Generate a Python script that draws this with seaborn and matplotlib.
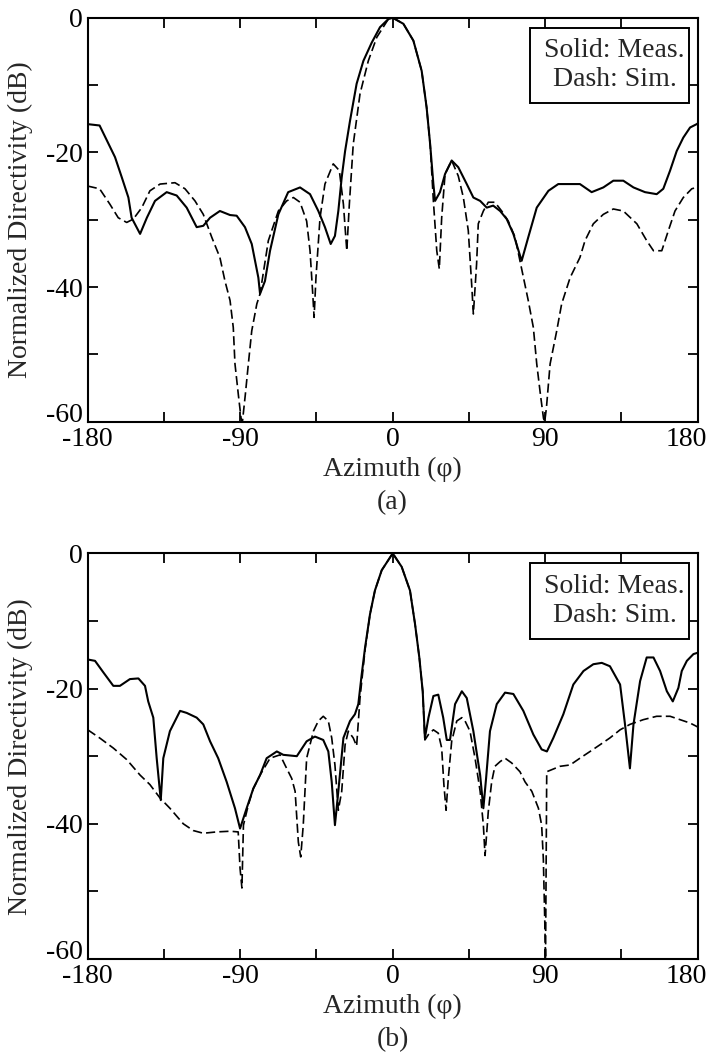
import numpy as np
import pandas as pd
import matplotlib
matplotlib.use("Agg")
import matplotlib.pyplot as plt
from matplotlib.ticker import FixedLocator
from matplotlib.patches import Rectangle
from matplotlib.transforms import ScaledTranslation
import seaborn as sns

# (a) measured
a_meas_x = [-180, -173.0, -163.9, -159.9, -156.0, -154.1, -149.1, -145.1, -140.3, -133.4, -127.5, -121.6,
            -115.7, -111.8, -107.8, -102.0, -96.0, -92.1, -87.2, -83.2, -79.3, -78.3, -75.4, -72.4, -67.5,
            -61.7, -54.7, -48.8, -43.9, -40.0, -36.6, -34.1, -32.1, -30.1, -28.1, -25.2, -21.3, -17.3,
            -12.4, -7.5, -2.6, 0, 6.3, 12.2, 17.1, 20.0, 22.1, 24.0, 25.0, 27.9, 30.9, 34.8, 38.7, 43.7,
            47.6, 51.6, 55.5, 59.3, 63.4, 67.3, 71.2, 76.1, 80.0, 85.0, 91.9, 97.7, 110.5, 117.4, 124.3,
            130.2, 136.1, 142.1, 148.9, 155.8, 159.7, 163.7, 167.6, 171.5, 175.5, 179.4, 180]
a_meas_y = [-15.8, -16.0, -20.7, -23.7, -26.7, -29.7, -32.1, -29.7, -27.2, -25.9, -26.4, -28.2,
            -31.1, -30.9, -29.7, -28.7, -29.3, -29.4, -31.1, -33.6, -38.6, -41.0, -39.1, -34.6, -29.2,
            -25.9, -25.2, -26.2, -28.7, -31.1, -33.6, -32.4, -28.7, -23.7, -19.8, -15.3, -9.8, -6.4,
            -3.7, -1.4, -0.2, 0, -0.9, -3.4, -7.9, -13.3, -18.8, -24.7, -27.2, -25.9, -23.2, -21.2, -22.2, -24.7,
            -26.7, -27.2, -28.2, -27.9, -28.7, -29.9, -32.1, -36.1, -32.6, -28.2, -25.7, -24.7, -24.7, -25.9, -25.2,
            -24.2, -24.2, -25.2, -25.9, -26.2, -25.4, -22.7, -19.8, -17.8, -16.3, -15.8, -15.7]

# (a) simulated
a_sim_x = [-180, -173.0, -166.9, -162.0, -157.0, -153.1, -148.1, -143.3, -137.3, -128.5, -122.6, -116.7,
           -111.8, -106.8, -102.0, -99.0, -96.0, -94.1, -93.1, -91.1, -89.5, -88.7, -87.0, -85.2, -83.2,
           -80.2, -78.3, -73.4, -67.5, -62.6, -58.6, -54.7, -50.8, -48.8, -47.2, -46.4, -45.3, -42.9,
           -40.0, -35.1, -31.5, -29.1, -27.1, -25.6, -23.3, -19.3, -14.4, -9.4, -2.6, 0, 6.3, 12.2,
           17.1, 20.0, 22.1, 24.0, 26.0, 27.5, 28.9, 30.9, 34.8, 38.7, 41.7, 44.6, 46.6, 47.6, 49.5, 50.5,
           53.5, 56.4, 60.3, 64.3, 68.2, 72.2, 76.1, 80.0, 83.0, 85.0, 87.2, 89.0, 89.7, 90.7, 92.9, 96.8,
           99.7, 104.7, 110.5, 113.5, 118.4, 124.3, 130.2, 136.1, 144.1, 149.9, 153.9, 158.8, 162.7, 166.6,
           171.5, 176.5, 179.4, 180]
a_sim_y = [-25.0, -25.4, -27.7, -29.7, -30.4, -29.9, -28.2, -25.7, -24.7, -24.5, -25.4, -27.2,
           -29.2, -32.6, -35.6, -39.1, -42.0, -46.0, -51.4, -56, -59.5, -60, -56, -51.4, -46.5,
           -42.5, -41.0, -33.1, -28.7, -27.2, -26.7, -27.4, -30.2, -34.6, -41.0, -44.5, -38.6, -29.7,
           -24.7, -21.7, -22.7, -27.7, -34.6, -27.7, -18.8, -11.3, -6.4, -2.9, -0.2, 0, -0.9, -3.4,
           -7.9, -13.3, -18.8, -27.2, -34.6, -37.3, -29.7, -23.2, -21.2, -23.5, -26.7, -31.6, -39.6, -44.0, -36.6, -30.6,
           -28.7, -27.4, -27.4, -28.7, -30.2, -32.6, -37.3, -42.0, -46.0, -51.4, -56, -59.5, -60, -58, -51.4, -46.5,
           -42.5, -38.6, -35.6, -33.1, -30.6, -29.2, -28.4, -28.7, -30.6, -33.1, -34.6, -34.6, -31.6, -28.7,
           -26.7, -25.4, -25.2, -25.0]

# (b) measured
b_meas_x = [-180, -175.7, -170.8, -164.9, -161.0, -155.1, -150.1, -146.2, -144.3, -141.3, -139.3, -136.9,
            -135.4, -131.5, -125.5, -121.6, -115.7, -111.8, -107.8, -103.0, -98.0, -93.1, -90.1, -86.2,
            -82.3, -78.3, -74.4, -68.4, -64.6, -56.6, -50.8, -45.9, -41.0, -38.0, -36.0, -34.1, -32.1, -29.1,
            -25.2, -22.3, -20.3, -18.3, -16.3, -13.4, -10.5, -6.5, -2.6, 0, 5.3, 10.2, 13.2, 15.7, 17.7,
            19.0, 21.1, 24.0, 26.9, 29.8, 31.9, 33.8, 36.8, 40.8, 43.7, 47.6, 51.6, 53.5, 55.1, 57.4, 61.4,
            66.3, 71.2, 77.1, 83.0, 87.9, 91.0, 94.8, 100.7, 106.6, 112.6, 118.4, 123.4, 128.2, 134.2, 137.1,
            140.0, 142.1, 146.0, 149.9, 153.9, 157.8, 161.8, 165.3, 168.6, 170.6, 173.6, 177.5, 180]
b_meas_y = [-15.7, -15.9, -17.6, -19.6, -19.6, -18.6, -18.5, -19.6, -21.9, -24.3, -30.3, -36.5,
            -30.3, -26.3, -23.3, -23.6, -24.3, -25.3, -27.8, -30.3, -33.8, -37.7, -40.7, -37.7,
            -34.8, -32.8, -30.3, -29.3, -29.8, -30.0, -27.8, -27.1, -27.6, -29.3, -33.8, -40.2, -35.2, -27.3,
            -24.8, -23.8, -22.3, -17.9, -13.9, -9.0, -5.5, -2.5, -1.0, 0, -2.0, -5.5, -10.5, -15.4, -20.4,
            -27.3, -24.3, -21.1, -20.9, -24.3, -27.6, -27.6, -22.3, -20.4, -21.4, -26.3, -32.8, -37.7, -33.3, -26.3, -22.3,
            -20.6, -20.8, -23.3, -26.8, -29.0, -29.3, -27.3, -23.8, -19.4, -17.4, -16.4, -16.2, -16.7, -19.4, -25.3,
            -31.8, -25.3, -18.9, -15.4, -15.4, -17.4, -20.4, -21.9, -19.9, -17.4, -15.9, -14.9, -14.7]

# (b) simulated
b_sim_x = [-180, -173.0, -164.9, -157.0, -149.1, -143.3, -137.3, -131.5, -123.6, -117.7, -111.8, -103.9,
           -96.0, -91.2, -90.1, -89.0, -88.1, -85.2, -82.3, -78.3, -72.4, -66.5, -63.6, -59.6, -57.6,
           -55.7, -54.3, -52.8, -50.8, -46.8, -43.9, -41.0, -38.0, -36.0, -34.1, -32.1, -30.1, -28.1, -26.2,
           -23.3, -21.3, -19.3, -16.3, -13.4, -10.5, -6.5, -2.6, 0, 5.3, 10.2, 13.2, 15.7, 17.7, 19.0,
           21.1, 24.0, 26.9, 28.9, 30.2, 31.5, 32.8, 34.8, 37.8, 40.8, 42.7, 45.6, 48.6, 51.6, 53.5, 54.5,
           56.4, 58.4, 60.3, 63.4, 66.3, 70.2, 75.1, 78.1, 82.1, 86.0, 87.9, 88.9, 89.8, 90.2, 90.9, 98.7,
           104.7, 110.5, 116.5, 122.4, 128.2, 134.2, 140.0, 147.9, 155.8, 163.7, 169.6, 175.5, 179.4, 180]
b_sim_y = [-26.1, -27.3, -28.8, -30.5, -32.8, -34.2, -36.2, -37.7, -40.0, -41.0, -41.4, -41.2,
           -41.1, -41.2, -46.6, -49.5, -40.2, -37.2, -34.8, -32.8, -30.3, -29.8, -31.3, -33.3, -35.2,
           -42.7, -44.9, -40.2, -30.3, -26.3, -24.8, -24.1, -24.8, -27.3, -31.3, -38.0, -35.2, -28.3, -26.3,
           -27.3, -28.5, -21.4, -14.2, -9.0, -5.5, -2.5, -1.0, 0, -2.0, -5.5, -10.5, -15.4, -20.4, -27.6,
           -26.8, -26.1, -26.6, -28.8, -34.2, -38.0, -33.3, -27.8, -24.8, -24.3, -24.8, -26.3, -30.3, -35.2, -40.2, -44.7,
           -38.2, -33.8, -31.5, -30.8, -30.3, -31.0, -32.3, -33.8, -35.2, -37.7, -40.2, -45.2, -55, -60, -32.3, -31.5,
           -31.3, -30.3, -29.3, -28.3, -27.3, -26.1, -25.3, -24.6, -24.1, -24.1, -24.6, -25.1, -25.6, -25.7]

x_major = [-180, -90, 0, 90, 180]
x_minor = [-135, -45, 45, 135]
y_major = [-60, -40, -20, 0]
y_minor = [-50, -30, -10]


def make_df(mx, my, sx, sy):
    m = pd.DataFrame({'Azimuth': mx, 'dB': my, 'kind': 'Meas.'})
    s = pd.DataFrame({'Azimuth': sx, 'dB': sy, 'kind': 'Sim.'})
    return pd.concat([s, m], ignore_index=True)


df_a = make_df(a_meas_x, a_meas_y, a_sim_x, a_sim_y)
df_b = make_df(b_meas_x, b_meas_y, b_sim_x, b_sim_y)

sns.set_style("ticks")
plt.rcParams['font.family'] = ['Liberation Serif', 'DejaVu Serif']
plt.rcParams['axes.unicode_minus'] = False
FS = 20

fig = plt.figure(figsize=(7.15, 10.57), dpi=100)
ax_a = fig.add_axes([0.1227, 0.6010, 0.8531, 0.3822])
ax_b = fig.add_axes([0.1227, 0.0927, 0.8531, 0.3838])

for ax, df, cap, cap_y in [(ax_a, df_a, '(a)', 0.5241), (ax_b, df_b, '(b)', 0.0165)]:
    sns.lineplot(data=df, x='Azimuth', y='dB', style='kind', size='kind',
                 dashes={'Meas.': '', 'Sim.': (5.5, 2.5)},
                 sizes={'Meas.': 1.5, 'Sim.': 1.2},
                 color='black', sort=False, estimator=None, legend=False, ax=ax)
    ax.set_xlim(-180, 180)
    ax.set_ylim(-60, 0)
    ax.xaxis.set_major_locator(FixedLocator(x_major))
    ax.xaxis.set_minor_locator(FixedLocator(x_minor))
    ax.yaxis.set_major_locator(FixedLocator(y_major))
    ax.yaxis.set_minor_locator(FixedLocator(y_minor))
    ax.tick_params(which='both', direction='in', top=True, right=True,
                   length=7, width=1.3, labelsize=FS, colors='black')
    for sp in ax.spines.values():
        sp.set_linewidth(1.5)
        sp.set_color('black')
    ax.set_xlabel('Azimuth (φ)', fontsize=FS)
    ax.set_ylabel('Normalized Directivity (dB)', fontsize=FS)
    ax.xaxis.set_label_coords(0.5, -0.087)
    ax.yaxis.set_label_coords(-0.09, 0.5)

    # -60 sits on the axis line, 180 pulled inside the figure
    ax.yaxis.get_major_ticks()[0].label1.set_va('baseline')
    lab = ax.xaxis.get_major_ticks()[-1].label1
    lab.set_transform(lab.get_transform() + ScaledTranslation(-8 / 72, 0, fig.dpi_scale_trans))

    ax.add_patch(Rectangle((0.725, 0.790), 0.261, 0.185, transform=ax.transAxes,
                           facecolor='white', edgecolor='black', linewidth=1.4, zorder=5))
    ax.text(0.864, 0.918, 'Solid: Meas.', transform=ax.transAxes, ha='center', va='center',
            fontsize=FS, zorder=6)
    ax.text(0.864, 0.848, 'Dash: Sim.', transform=ax.transAxes, ha='center', va='center',
            fontsize=FS, zorder=6)
    fig.text(0.5492, cap_y, cap, ha='center', va='center', fontsize=FS)

fig.savefig('out.png', dpi=100)
